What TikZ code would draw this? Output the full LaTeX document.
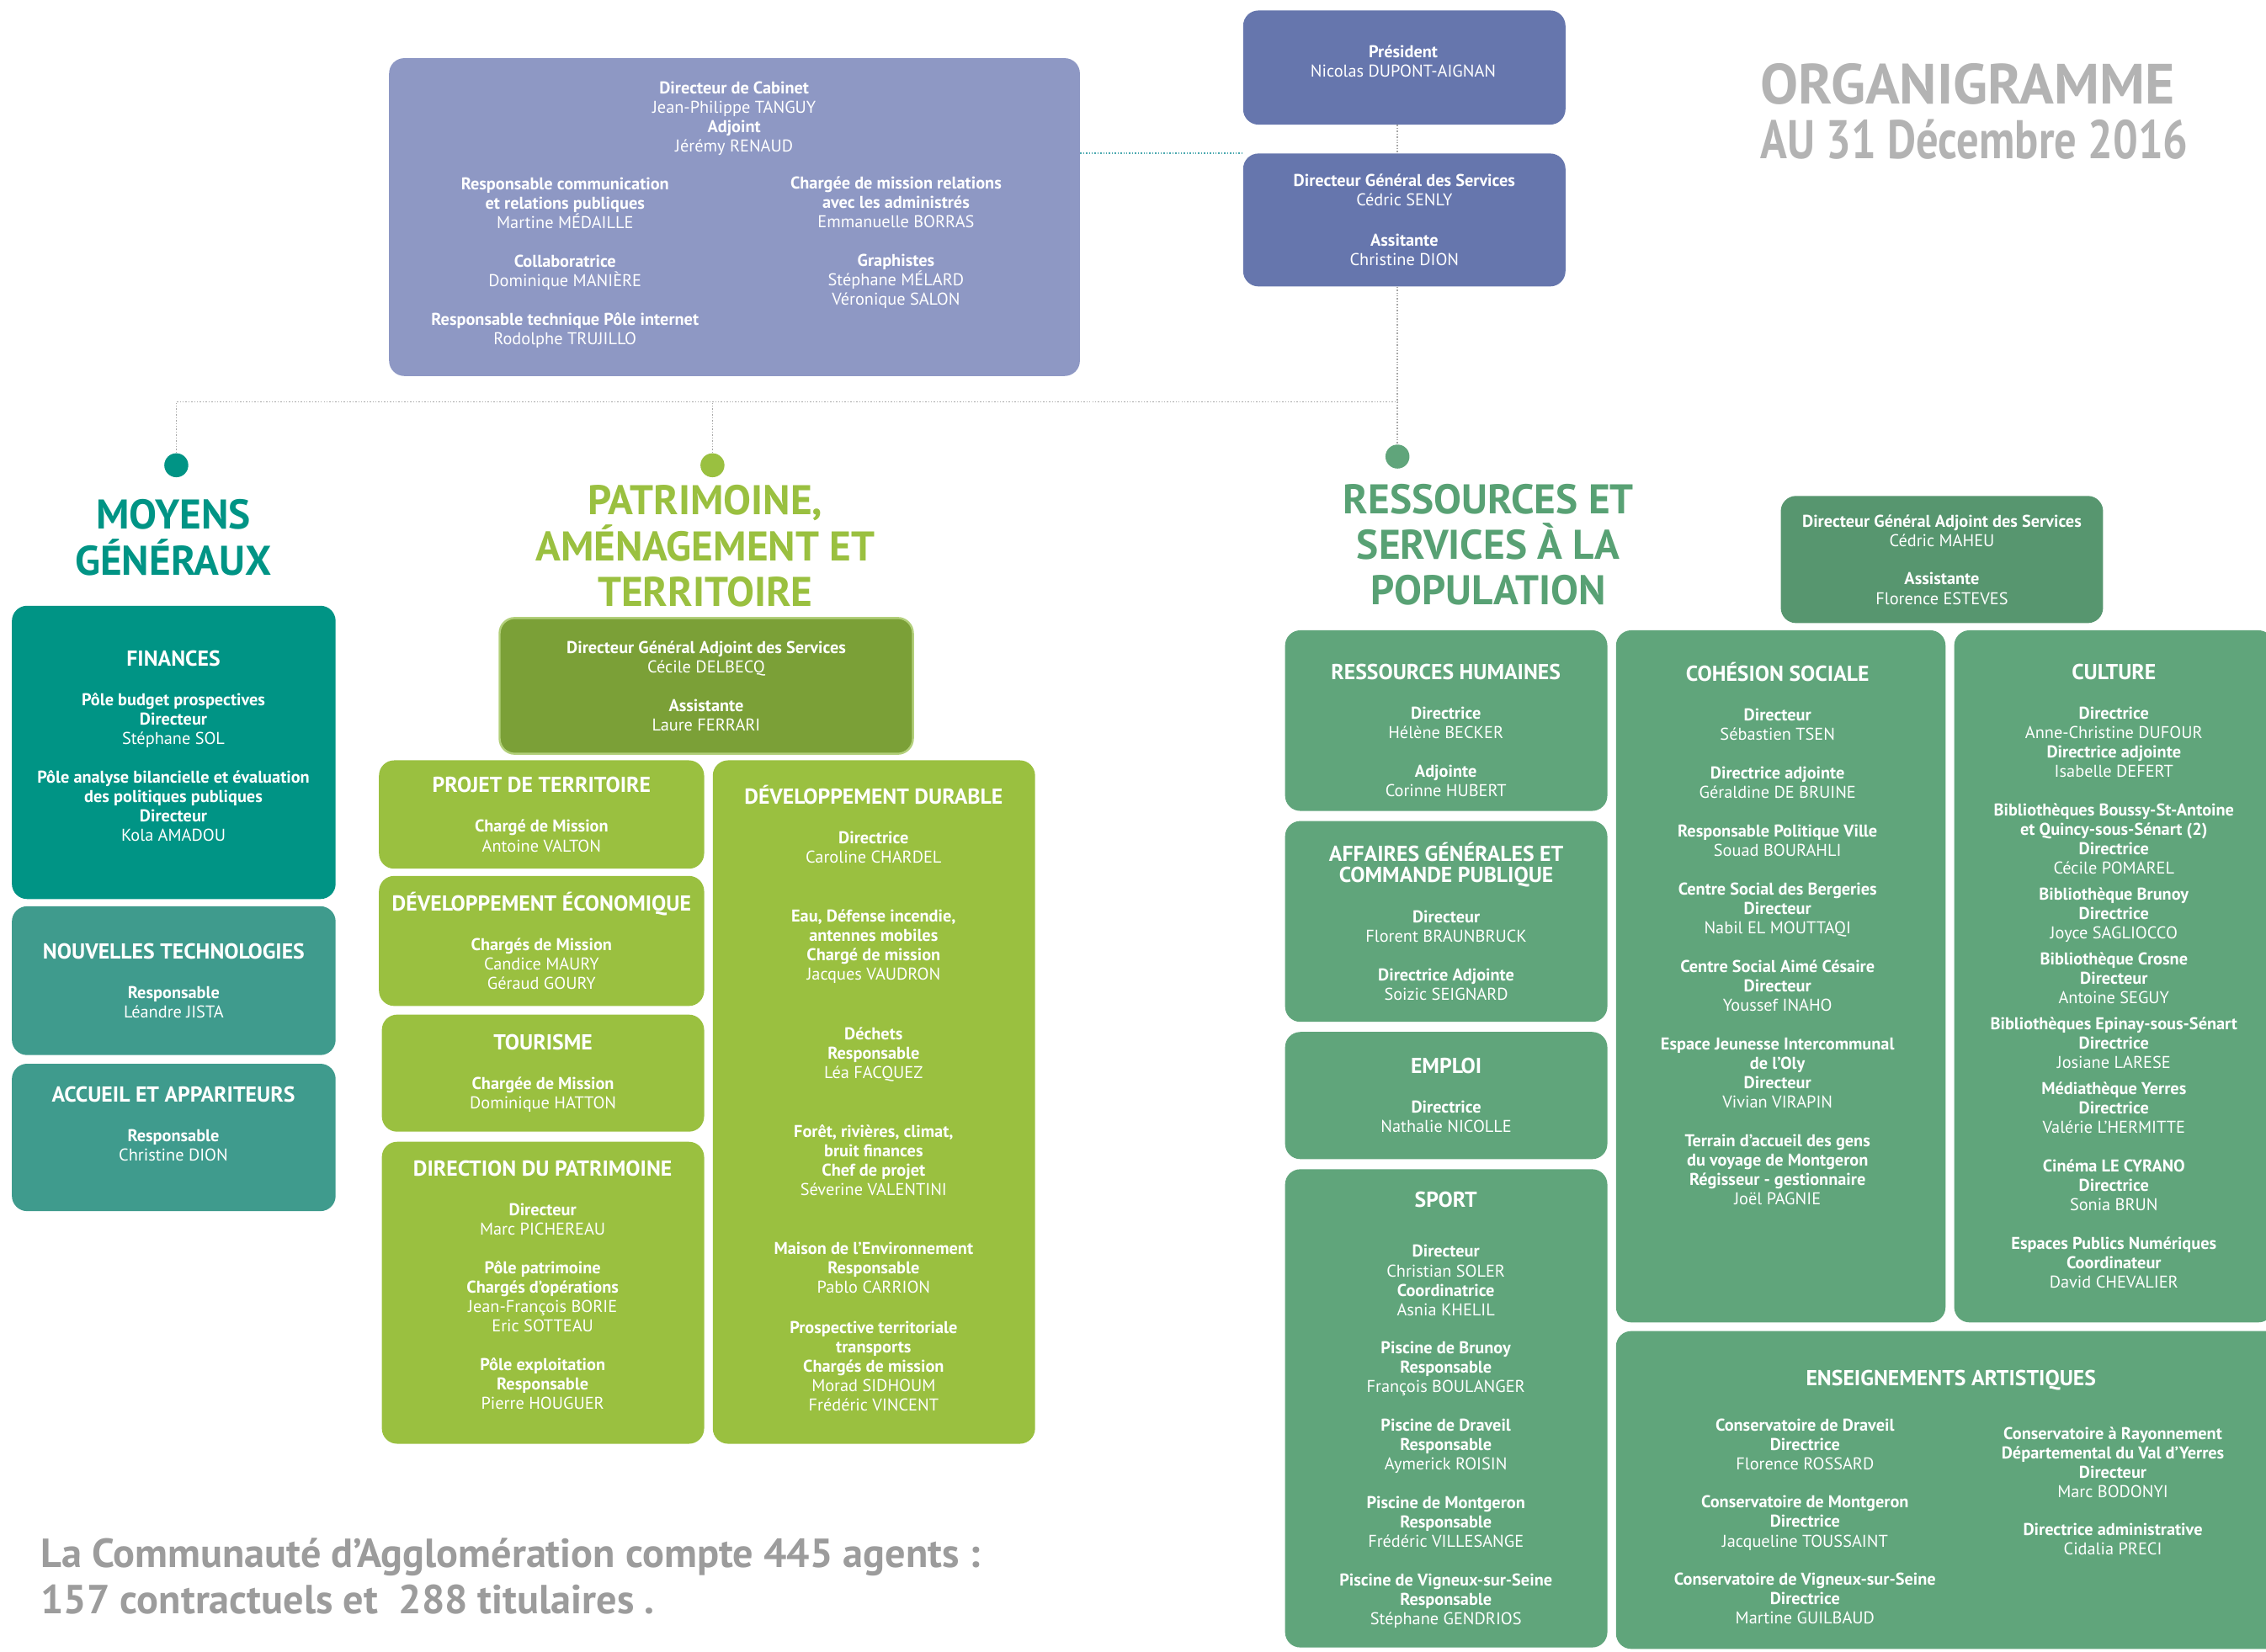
\documentclass[tikz,border=0pt]{standalone}
\usepackage{fontspec}
\setmainfont{PT Sans}
\usepackage{tikz}

\definecolor{cabblue}{HTML}{8E98C4}
\definecolor{presblue}{HTML}{6676AD}
\definecolor{mgteal}{HTML}{009485}
\definecolor{mgtealLt}{HTML}{3F9B8D}
\definecolor{patgreen}{HTML}{9AC040}
\definecolor{patgreenDk}{HTML}{7BA037}
\definecolor{patgreenLt}{HTML}{B2CF7A}
\definecolor{rspgreen}{HTML}{60A57B}
\definecolor{rspgreenDk}{HTML}{57966F}
\definecolor{rsptitle}{HTML}{58A174}
\definecolor{titlegray}{HTML}{B3B3B3}
\definecolor{notegray}{HTML}{9C9C9C}
\definecolor{linkteal}{HTML}{4AA8AF}

\newlength{\px}\setlength{\px}{0.03cm}
\newcommand{\boxhead}[1]{{\fontsize{12.8}{14.5}\selectfont\bfseries #1}}

\begin{document}
\begin{tikzpicture}[x=0.03cm, y=-0.03cm,
      panel/.style={rounded corners=9pt, inner sep=0pt, anchor=north west, align=center, text=white, font=\fontsize{10.1}{11.44}\selectfont},
      txt/.style={align=center, text=white, inner sep=0pt, font=\fontsize{10.1}{11.44}\selectfont},
      sectitle/.style={align=center, inner sep=0pt, font=\fontsize{24.5}{27}\selectfont\bfseries},
      dot/.style={circle, inner sep=0pt, minimum size=16.6\px},
      link/.style={densely dotted, gray!70, line width=0.7pt},
    ]
    \useasboundingbox (0,0) rectangle (1568,1143);

    % Top
    \node[panel, fill=cabblue, minimum width=478\px, minimum height=220\px] (cab) at (269,40) {};
    \node[txt] (cabhead) at (508,82) {\textbf{Directeur de Cabinet}\\Jean-Philippe TANGUY\\\textbf{Adjoint}\\Jérémy RENAUD};
    \node[txt] (cableft) at (391,182) {\textbf{Responsable communication}\\\textbf{et relations publiques}\\Martine MÉDAILLE\\[11.4pt]\textbf{Collaboratrice}\\Dominique MANIÈRE\\[11.4pt]\textbf{Responsable technique Pôle internet}\\Rodolphe TRUJILLO};
    \node[txt] (cabright) at (620,168) {\textbf{Chargée de mission relations}\\\textbf{avec les administrés}\\Emmanuelle BORRAS\\[11.4pt]\textbf{Graphistes}\\Stéphane MÉLARD\\Véronique SALON};

    \node[panel, fill=presblue, minimum width=223\px, minimum height=79\px] (pres) at (860,7) {};
    \node[txt] (prestxt) at (971,42.5) {\textbf{Président}\\Nicolas DUPONT-AIGNAN};
    \node[panel, fill=presblue, minimum width=223\px, minimum height=92\px] (dgs) at (860,106) {\textbf{Directeur Général des Services}\\Cédric SENLY\\[12.5pt]\textbf{Assitante}\\Christine DION};

    \node[anchor=west, align=left, inner sep=0pt, text=titlegray, font=\fontsize{33.5}{32.5}\selectfont\bfseries] (orga) at (1218,77) {ORGANIGRAMME\\\scalebox{0.78}[0.96]{AU 31 Décembre 2016}};

    % Moyens generaux
    \node[sectitle, text=mgteal] (mgtitle) at (120,372) {MOYENS\\GÉNÉRAUX};
    \node[dot, fill=mgteal] (dotL) at (122,322) {};
    \node[panel, fill=mgteal, minimum width=224\px, minimum height=203\px] (fin) at (8,419) {};
    \node[txt] (fintxt) at (120,516.5) {\boxhead{FINANCES}\\[12pt]\textbf{Pôle budget prospectives}\\\textbf{Directeur}\\Stéphane SOL\\[11.4pt]\textbf{Pôle analyse bilancielle et évaluation}\\\textbf{des politiques publiques}\\\textbf{Directeur}\\Kola AMADOU};
    \node[panel, fill=mgtealLt, minimum width=224\px, minimum height=103\px] (newtech) at (8,627) {\boxhead{NOUVELLES TECHNOLOGIES}\\[12pt]\textbf{Responsable}\\Léandre JISTA};
    \node[panel, fill=mgtealLt, minimum width=224\px, minimum height=102\px] (accueil) at (8,736) {};
    \node[txt] (accueiltxt) at (120,778) {\boxhead{ACCUEIL ET APPARITEURS}\\[12pt]\textbf{Responsable}\\Christine DION};

    % Patrimoine
    \node[sectitle, text=patgreen] (pattitle) at (488,378) {PATRIMOINE,\\AMÉNAGEMENT ET\\TERRITOIRE};
    \node[dot, fill=patgreen] (dotM) at (493,322) {};
    \node[panel, fill=patgreenDk, draw=patgreenLt, line width=1.2pt, minimum width=286\px, minimum height=94\px] (dgapat) at (345,427) {\textbf{Directeur Général Adjoint des Services}\\Cécile DELBECQ\\[11.4pt]\textbf{Assistante}\\Laure FERRARI};
    \node[panel, fill=patgreen, minimum width=225\px, minimum height=75\px] (projet) at (262,526) {\boxhead{PROJET DE TERRITOIRE}\\[12pt]\textbf{Chargé de Mission}\\Antoine VALTON};
    \node[panel, fill=patgreen, minimum width=225\px, minimum height=90\px] (deveco) at (262,606) {\boxhead{DÉVELOPPEMENT ÉCONOMIQUE}\\[12pt]\textbf{Chargés de Mission}\\Candice MAURY\\Géraud GOURY};
    \node[panel, fill=patgreen, minimum width=223\px, minimum height=81\px] (tourisme) at (264,702) {\boxhead{TOURISME}\\[12pt]\textbf{Chargée de Mission}\\Dominique HATTON};
    \node[panel, fill=patgreen, minimum width=223\px, minimum height=209\px] (dirpat) at (264,790) {};
    \node[txt] (dirpattxt) at (375.5,889.5) {\boxhead{DIRECTION DU PATRIMOINE}\\[12pt]\textbf{Directeur}\\Marc PICHEREAU\\[11.4pt]\textbf{Pôle patrimoine}\\\textbf{Chargés d’opérations}\\Jean-François BORIE\\Eric SOTTEAU\\[11.4pt]\textbf{Pôle exploitation}\\\textbf{Responsable}\\Pierre HOUGUER};
    \node[panel, fill=patgreen, minimum width=223\px, minimum height=473\px] (devdur) at (493,526) {};
    \node[txt] (devdurtxt) at (604.5,760) {\boxhead{DÉVELOPPEMENT DURABLE}\\[12pt]\textbf{Directrice}\\Caroline CHARDEL\\[23.6pt]\textbf{Eau, Défense incendie,}\\\textbf{antennes mobiles}\\\textbf{Chargé de mission}\\Jacques VAUDRON\\[23.6pt]\textbf{Déchets}\\\textbf{Responsable}\\Léa FACQUEZ\\[23.6pt]\textbf{Forêt, rivières, climat,}\\\textbf{bruit finances}\\\textbf{Chef de projet}\\Séverine VALENTINI\\[23pt]\textbf{Maison de l’Environnement}\\\textbf{Responsable}\\Pablo CARRION\\[12.5pt]\textbf{Prospective territoriale}\\\textbf{transports}\\\textbf{Chargés de mission}\\Morad SIDHOUM\\Frédéric VINCENT};

    \node[anchor=west, align=left, inner sep=0pt, text=notegray, font=\fontsize{24}{27.3}\selectfont\bfseries] (note) at (28,1091) {La Communauté d’Agglomération compte 445 agents :\\157 contractuels et\ \ 288 titulaires .};

    % Ressources
    \node[sectitle, text=rsptitle] (rsptitle) at (1030,377) {RESSOURCES ET\\SERVICES À LA\\POPULATION};
    \node[dot, fill=rspgreen] (dotR) at (967,316) {};
    \node[panel, fill=rspgreenDk, minimum width=223\px, minimum height=88\px] (dgarsp) at (1232,343) {\textbf{Directeur Général Adjoint des Services}\\Cédric MAHEU\\[11.4pt]\textbf{Assistante}\\Florence ESTEVES};
    \node[panel, fill=rspgreen, minimum width=223\px, minimum height=125\px] (rh) at (889,436) {};
    \node[txt] (rhtxt) at (1000.5,505.5) {\boxhead{RESSOURCES HUMAINES}\\[12pt]\textbf{Directrice}\\Hélène BECKER\\[11.4pt]\textbf{Adjointe}\\Corinne HUBERT};
    \node[panel, fill=rspgreen, minimum width=223\px, minimum height=139\px] (affgen) at (889,568) {\boxhead{AFFAIRES GÉNÉRALES ET}\\[1pt]\boxhead{COMMANDE PUBLIQUE}\\[12pt]\textbf{Directeur}\\Florent BRAUNBRUCK\\[11.4pt]\textbf{Directrice Adjointe}\\Soizic SEIGNARD};
    \node[panel, fill=rspgreen, minimum width=223\px, minimum height=88\px] (emploi) at (889,714) {\boxhead{EMPLOI}\\[12pt]\textbf{Directrice}\\Nathalie NICOLLE};
    \node[panel, fill=rspgreen, minimum width=223\px, minimum height=331\px] (sport) at (889,809) {};
    \node[txt] (sporttxt) at (1000.5,976) {\boxhead{SPORT}\\[18pt]\textbf{Directeur}\\Christian SOLER\\\textbf{Coordinatrice}\\Asnia KHELIL\\[11.4pt]\textbf{Piscine de Brunoy}\\\textbf{Responsable}\\François BOULANGER\\[11.4pt]\textbf{Piscine de Draveil}\\\textbf{Responsable}\\Aymerick ROISIN\\[11.4pt]\textbf{Piscine de Montgeron}\\\textbf{Responsable}\\Frédéric VILLESANGE\\[11.4pt]\textbf{Piscine de Vigneux-sur-Seine}\\\textbf{Responsable}\\Stéphane GENDRIOS};
    \node[panel, fill=rspgreen, minimum width=228\px, minimum height=479\px] (cohesion) at (1118,436) {};
    \node[txt] (cohtxt) at (1230,646) {\boxhead{COHÉSION SOCIALE}\\[12pt]\textbf{Directeur}\\Sébastien TSEN\\[11.4pt]\textbf{Directrice adjointe}\\Géraldine DE BRUINE\\[11.4pt]\textbf{Responsable Politique Ville}\\Souad BOURAHLI\\[11.4pt]\textbf{Centre Social des Bergeries}\\\textbf{Directeur}\\Nabil EL MOUTTAQI\\[11.4pt]\textbf{Centre Social Aimé Césaire}\\\textbf{Directeur}\\Youssef INAHO\\[11.4pt]\textbf{Espace Jeunesse Intercommunal}\\\textbf{de l’Oly}\\\textbf{Directeur}\\Vivian VIRAPIN\\[11.4pt]\textbf{Terrain d’accueil des gens}\\\textbf{du voyage de Montgeron}\\\textbf{Régisseur - gestionnaire}\\Joël PAGNIE};
    \node[panel, fill=rspgreen, minimum width=221\px, minimum height=479\px] (culture) at (1352,436) {\boxhead{CULTURE}\\[12pt]\textbf{Directrice}\\Anne-Christine DUFOUR\\\textbf{Directrice adjointe}\\Isabelle DEFERT\\[11.4pt]\textbf{Bibliothèques Boussy-St-Antoine}\\\textbf{et Quincy-sous-Sénart (2)}\\\textbf{Directrice}\\Cécile POMAREL\\[4pt]\textbf{Bibliothèque Brunoy}\\\textbf{Directrice}\\Joyce SAGLIOCCO\\[4pt]\textbf{Bibliothèque Crosne}\\\textbf{Directeur}\\Antoine SEGUY\\[4pt]\textbf{Bibliothèques Epinay-sous-Sénart}\\\textbf{Directrice}\\Josiane LARESE\\[4pt]\textbf{Médiathèque Yerres}\\\textbf{Directrice}\\Valérie L’HERMITTE\\[11.4pt]\textbf{Cinéma LE CYRANO}\\\textbf{Directrice}\\Sonia BRUN\\[11.4pt]\textbf{Espaces Publics Numériques}\\\textbf{Coordinateur}\\David CHEVALIER};
    \node[panel, fill=rspgreen, minimum width=464\px, minimum height=220\px] (enseign) at (1118,921) {};
    \node[txt] (enshead) at (1350,955) {\boxhead{ENSEIGNEMENTS ARTISTIQUES}};
    \node[txt] (ensleft) at (1249,1053) {\textbf{Conservatoire de Draveil}\\\textbf{Directrice}\\Florence ROSSARD\\[11.4pt]\textbf{Conservatoire de Montgeron}\\\textbf{Directrice}\\Jacqueline TOUSSAINT\\[11.4pt]\textbf{Conservatoire de Vigneux-sur-Seine}\\\textbf{Directrice}\\Martine GUILBAUD};
    \node[txt] (ensright) at (1462,1032) {\textbf{Conservatoire à Rayonnement}\\\textbf{Départemental du Val d’Yerres}\\\textbf{Directeur}\\Marc BODONYI\\[11.4pt]\textbf{Directrice administrative}\\Cidalia PRECI};

    % Links
    \coordinate (hub) at (967,278);
    \draw[link] (pres.south -| dotR) -- (dgs.north -| dotR);
    \draw[link] (dgs.south -| dotR) -- (dotR.north);
    \draw[link] (dotL.north) |- (hub);
    \draw[link] (dotM.north) -- (dotM |- hub);
    \draw[link, linkteal] (cab.east |- dgs.north) -- (dgs.north west);
  \end{tikzpicture}
\end{document}
